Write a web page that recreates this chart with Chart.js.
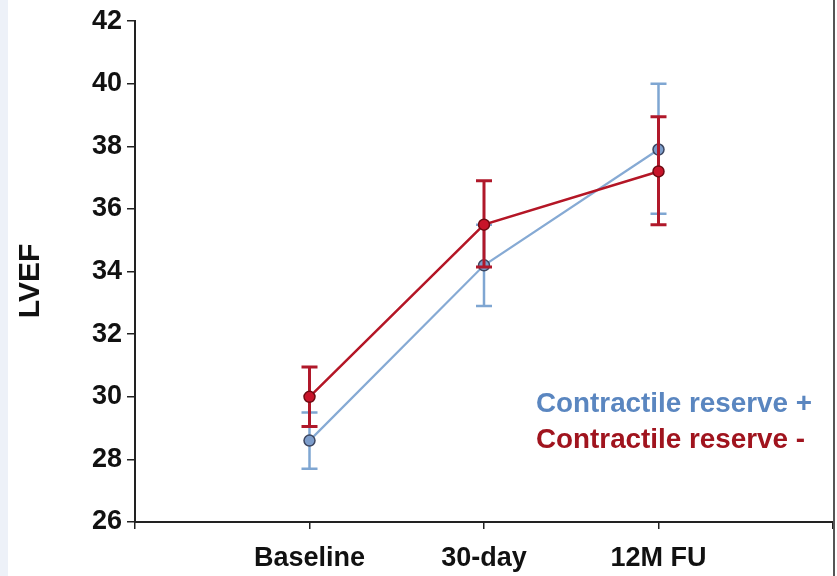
<!DOCTYPE html>
<html>
<head>
<meta charset="utf-8">
<script src="https://cdn.jsdelivr.net/npm/chart.js@4"></script>
<style>
  html, body { margin: 0; padding: 0; background: #fff; }
  body { width: 837px; height: 576px; position: relative; overflow: hidden;
         background: linear-gradient(to right, #edf1f8 0, #edf1f8 8px, #fff 8px); }
  #wrap { position: absolute; left: 0; top: 0; width: 837px; height: 576px; overflow: hidden; }
  #edge { position: absolute; left: 833px; top: 0; width: 2px; height: 576px; background: #555; }
</style>
</head>
<body>
<div id="wrap"><canvas id="chart" width="846" height="576"></canvas></div>
<div id="edge"></div>
<script>
// categories sit at x = 1, 2, 3 on a 0..4 axis
const categories = ["Baseline", "30-day", "12M FU"];
const yTicks = [26, 28, 30, 32, 34, 36, 38, 40, 42];

// Contractile reserve +
const crPlus = [28.6, 34.2, 37.9];
const crPlusLow = [27.7, 32.9, 35.85];
const crPlusHigh = [29.5, 35.5, 40.0];

// Contractile reserve -
const crMinus = [30.0, 35.5, 37.2];
const crMinusLow = [29.05, 34.15, 35.5];
const crMinusHigh = [30.95, 36.9, 38.95];

const FONT = '"Liberation Sans", Arial, sans-serif';
const toPoints = vals => vals.map((v, i) => ({ x: i + 1, y: v }));

// vertical error bars with caps, drawn under each dataset's own points
const errorBars = {
  id: "errorBars",
  beforeDatasetDraw(chart, args) {
    const ds = chart.data.datasets[args.index];
    if (!ds.errLow) return;
    const { ctx, scales: { x, y } } = chart;
    ctx.save();
    ctx.strokeStyle = ds.errColor;
    ctx.lineWidth = ds.errWidth;
    ds.data.forEach((p, i) => {
      const px = x.getPixelForValue(p.x);
      const lo = y.getPixelForValue(ds.errLow[i]);
      const hi = y.getPixelForValue(ds.errHigh[i]);
      ctx.beginPath();
      ctx.moveTo(px, lo); ctx.lineTo(px, hi);
      ctx.moveTo(px - 8, lo); ctx.lineTo(px + 8, lo);
      ctx.moveTo(px - 8, hi); ctx.lineTo(px + 8, hi);
      ctx.stroke();
    });
    ctx.restore();
  }
};

// y title and in-plot legend text
const labels = {
  id: "labels",
  afterDraw(chart) {
    const ctx = chart.ctx;
    ctx.save();
    ctx.fillStyle = "#111";
    ctx.font = "bold 30px " + FONT;
    ctx.translate(31, 281);
    ctx.rotate(-Math.PI / 2);
    ctx.textAlign = "center";
    ctx.textBaseline = "middle";
    ctx.fillText("LVEF", 0, 0);
    ctx.restore();

    ctx.save();
    ctx.font = "bold 27px " + FONT;
    ctx.textAlign = "left";
    ctx.textBaseline = "alphabetic";
    chart.data.datasets.forEach((ds, i) => {
      ctx.save();
      ctx.translate(536, 412 + i * 36);
      ctx.scale(1.03, 1);
      ctx.fillStyle = ds.textColor;
      ctx.fillText(ds.label, 0, 0);
      ctx.restore();
    });
    ctx.restore();
  }
};

new Chart(document.getElementById("chart"), {
  type: "line",
  data: {
    datasets: [
      {
        label: "Contractile reserve +",
        data: toPoints(crPlus),
        errLow: crPlusLow, errHigh: crPlusHigh,
        errColor: "#7fa6d2", errWidth: 2.5,
        textColor: "#5a86c0",
        borderColor: "#86aad4",
        borderWidth: 2.2,
        pointRadius: 5.5,
        pointBackgroundColor: "#7d9dcb",
        pointBorderColor: "#3c4660",
        pointBorderWidth: 1.5,
        tension: 0,
        order: 1
      },
      {
        label: "Contractile reserve -",
        data: toPoints(crMinus),
        errLow: crMinusLow, errHigh: crMinusHigh,
        errColor: "#b0182a", errWidth: 3,
        textColor: "#a0141e",
        borderColor: "#b41626",
        borderWidth: 2.5,
        pointRadius: 5.5,
        pointBackgroundColor: "#c8142a",
        pointBorderColor: "#6e0a12",
        pointBorderWidth: 1.5,
        tension: 0,
        order: 0
      }
    ]
  },
  options: {
    responsive: false,
    animation: false,
    layout: { padding: { top: 21, right: 4, left: 0, bottom: 0 } },
    plugins: { legend: { display: false }, tooltip: { enabled: false } },
    scales: {
      x: {
        type: "linear",
        min: 0, max: 4,
        afterBuildTicks: s => { s.ticks = [0, 1, 2, 3, 4].map(v => ({ value: v })); },
        afterFit: s => { s.height = 54; },
        border: { color: "#222", width: 2 },
        grid: { drawOnChartArea: false, drawTicks: true, tickLength: 7, color: "#222", lineWidth: 1.5 },
        ticks: {
          padding: 13,
          color: "#111",
          font: { family: FONT, size: 27, weight: "bold" },
          maxRotation: 0,
          autoSkip: false,
          callback: v => categories[v - 1] || ""
        }
      },
      y: {
        min: yTicks[0], max: yTicks[yTicks.length - 1],
        afterBuildTicks: s => { s.ticks = yTicks.map(v => ({ value: v })); },
        afterFit: s => { s.width = 135; },
        border: { color: "#222", width: 2 },
        grid: { drawOnChartArea: false, drawTicks: true, tickLength: 8, color: "#222", lineWidth: 1.5 },
        ticks: {
          padding: 5,
          color: "#111",
          font: { family: FONT, size: 27, weight: "bold" }
        }
      }
    }
  },
  plugins: [errorBars, labels]
});
</script>
</body>
</html>
